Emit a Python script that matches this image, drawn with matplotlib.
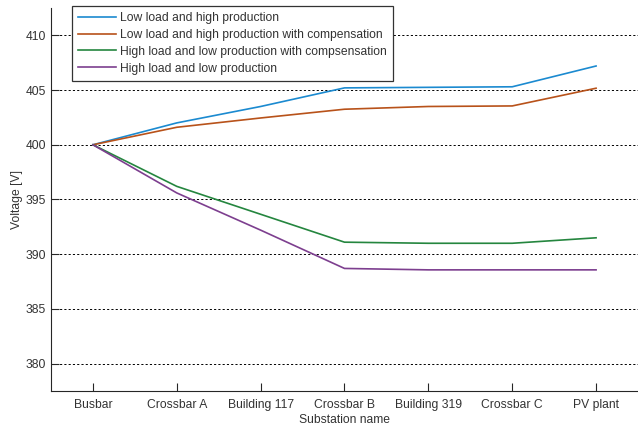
import matplotlib
matplotlib.use("Agg")
import matplotlib.pyplot as plt

stations = ["Busbar", "Crossbar A", "Building 117", "Crossbar B", "Building 319", "Crossbar C", "PV plant"]
low_high = [400.0, 402.0, 403.5, 405.2, 405.25, 405.3, 407.2]
low_high_comp = [400.0, 401.6, 402.45, 403.25, 403.5, 403.55, 405.17]
high_low_comp = [400.0, 396.2, 393.65, 391.1, 391.0, 391.0, 391.5]
high_low = [400.0, 395.6, 392.2, 388.7, 388.57, 388.57, 388.57]

labels = ["Low load and high production",
          "Low load and high production with compensation",
          "High load and low production with compsensation",
          "High load and low production"]
colors = ["#1b8ad0", "#b8521a", "#25863f", "#7d3f8f"]
yticks = [380, 385, 390, 395, 400, 405, 410]

plt.rcParams['font.family'] = ['Liberation Sans', 'DejaVu Sans']
plt.rcParams['font.size'] = 8.7

fig = plt.figure(figsize=(6.38, 4.28), dpi=100)
W, H = 638, 428
ax = fig.add_axes([51 / W, (H - 391) / H, (W - 51) / W, (391 - 8) / H])

x = list(range(1, len(stations) + 1))
for ys, lab, c in zip([low_high, low_high_comp, high_low_comp, high_low], labels, colors):
    ax.plot(x, ys, color=c, lw=1.2, label=lab)

ax.set_xlim(0.5, 7.5)
ax.set_ylim(377.5, 412.5)
ax.set_xticks(x)
ax.set_xticklabels(stations)
ax.set_yticks(yticks)
ax.yaxis.grid(True, color='black', linestyle=(0, (2.2, 2.2)), lw=0.7)
ax.set_axisbelow(True)
ax.tick_params(direction='in', length=5.5, width=0.8, colors='#262626', labelcolor='#333333')
ax.tick_params(axis='x', pad=6)
ax.spines['top'].set_visible(False)
ax.spines['right'].set_visible(False)
for s in ['left', 'bottom']:
    ax.spines[s].set_linewidth(0.8)
    ax.spines[s].set_color('#262626')

ax.set_xlabel("Substation name", labelpad=2, color='#333333')
ax.set_ylabel("Voltage [V]", labelpad=2, color='#333333')

leg = ax.legend(loc='upper left', bbox_to_anchor=(72 / W, 1 - 6 / H),
                bbox_transform=fig.transFigure, borderaxespad=0,
                handlelength=3.1, handletextpad=0.35, labelspacing=0.4,
                borderpad=0.5, fancybox=False, framealpha=1, fontsize=8.7)
leg.get_frame().set_edgecolor('#333333')
leg.get_frame().set_linewidth(0.9)
for t in leg.get_texts():
    t.set_color('#333333')

fig.savefig("out.png", dpi=100)
